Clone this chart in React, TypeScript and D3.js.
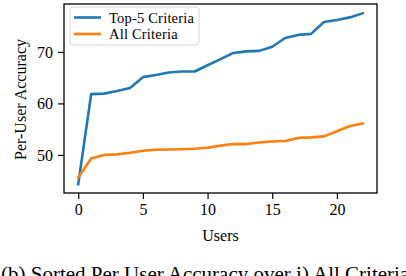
import React, { useEffect, useRef } from 'react';
import * as d3 from 'd3';

// sorted per-user accuracy
const users = d3.range(0, 23);
const top5Criteria = [44.3, 61.8, 61.9, 62.4, 63.0, 65.1, 65.5, 66.0, 66.2, 66.2, 67.4, 68.6, 69.8, 70.1, 70.2, 71.0, 72.7, 73.3, 73.5, 75.8, 76.2, 76.7, 77.5];
const allCriteria = [45.6, 49.3, 50.0, 50.1, 50.4, 50.8, 51.0, 51.05, 51.1, 51.2, 51.4, 51.8, 52.1, 52.1, 52.4, 52.6, 52.7, 53.3, 53.4, 53.6, 54.6, 55.6, 56.1];
const xTicks = [0, 5, 10, 15, 20];
const yTicks = [50, 60, 70];
const seriesNames = ['Top-5 Criteria', 'All Criteria'];
const seriesColors = ['#1f77b4', '#ff7f0e'];

const FONT = '"Liberation Serif", "DejaVu Serif", serif';

export default function App() {
  const svgRef = useRef<SVGSVGElement>(null);

  useEffect(() => {
    document.body.style.margin = '0';
    if (!svgRef.current) return;
    const svg = d3.select(svgRef.current);
    svg.selectAll('*').remove();

    const plot = { left: 64, right: 377, top: 4, bottom: 193 };

    const x = d3.scaleLinear().domain([-1.1, 23.1]).range([plot.left, plot.right]);
    const y = d3.scaleLinear().domain([42.6, 79.3]).range([plot.bottom, plot.top]);

    svg.append('rect')
      .attr('width', 406).attr('height', 276).attr('fill', 'white');

    // ticks
    const xAxis = svg.append('g')
      .attr('transform', `translate(0,${plot.bottom})`)
      .call(d3.axisBottom(x).tickValues(xTicks).tickSize(6).tickPadding(5).tickFormat(d3.format('d')));
    const yAxis = svg.append('g')
      .attr('transform', `translate(${plot.left},0)`)
      .call(d3.axisLeft(y).tickValues(yTicks).tickSize(6).tickPadding(5).tickFormat(d3.format('d')));
    [xAxis, yAxis].forEach(a => {
      a.select('.domain').remove();
      a.selectAll('line').attr('stroke', '#000').attr('stroke-width', 1.2);
      a.selectAll('text')
        .attr('fill', '#000')
        .style('font-family', FONT)
        .style('font-size', '16px');
    });

    // lines
    const series = [top5Criteria, allCriteria];
    const line = d3.line<number>()
      .x((_, i) => x(users[i]))
      .y(d => y(d));
    svg.append('defs').append('clipPath').attr('id', 'plotclip')
      .append('rect')
      .attr('x', plot.left).attr('y', plot.top)
      .attr('width', plot.right - plot.left).attr('height', plot.bottom - plot.top);
    series.forEach((s, i) => {
      svg.append('path')
        .datum(s)
        .attr('clip-path', 'url(#plotclip)')
        .attr('fill', 'none')
        .attr('stroke', seriesColors[i])
        .attr('stroke-width', 2.6)
        .attr('stroke-linejoin', 'round')
        .attr('stroke-linecap', 'square')
        .attr('d', line);
    });

    // frame
    svg.append('rect')
      .attr('x', plot.left).attr('y', plot.top)
      .attr('width', plot.right - plot.left).attr('height', plot.bottom - plot.top)
      .attr('fill', 'none').attr('stroke', '#000').attr('stroke-width', 1.3);

    // legend
    const legend = svg.append('g');
    legend.append('rect')
      .attr('x', 70).attr('y', 7).attr('width', 129).attr('height', 38)
      .attr('rx', 3)
      .attr('fill', 'white').attr('fill-opacity', 0.8)
      .attr('stroke', '#d6d6d6').attr('stroke-width', 1);
    seriesNames.forEach((name, i) => {
      const ly = 17.5 + i * 16.5;
      legend.append('line')
        .attr('x1', 74).attr('x2', 101).attr('y1', ly).attr('y2', ly)
        .attr('stroke', seriesColors[i]).attr('stroke-width', 2.6);
      legend.append('text')
        .attr('x', 109).attr('y', ly)
        .attr('dy', '0.35em')
        .style('font-family', FONT)
        .style('font-size', '14.5px')
        .style('letter-spacing', '0.2px')
        .text(name);
    });

    // axis labels
    svg.append('text')
      .attr('x', (plot.left + plot.right) / 2).attr('y', 241)
      .attr('text-anchor', 'middle')
      .style('font-family', FONT).style('font-size', '16px')
      .text('Users');
    svg.append('text')
      .attr('transform', `translate(26,${(plot.top + plot.bottom) / 2 + 1}) rotate(-90)`)
      .attr('text-anchor', 'middle')
      .style('font-family', FONT).style('font-size', '16px')
      .text('Per-User Accuracy');

    // caption (cut off at the bottom edge, as in the source figure)
    svg.append('text')
      .attr('x', 1).attr('y', 281)
      .style('font-family', FONT).style('font-size', '21px')
      .text('(b) Sorted Per User Accuracy over i) All Criteria');
  }, []);

  return (
    <svg ref={svgRef} width={406} height={276} style={{ display: 'block' }} />
  );
}
